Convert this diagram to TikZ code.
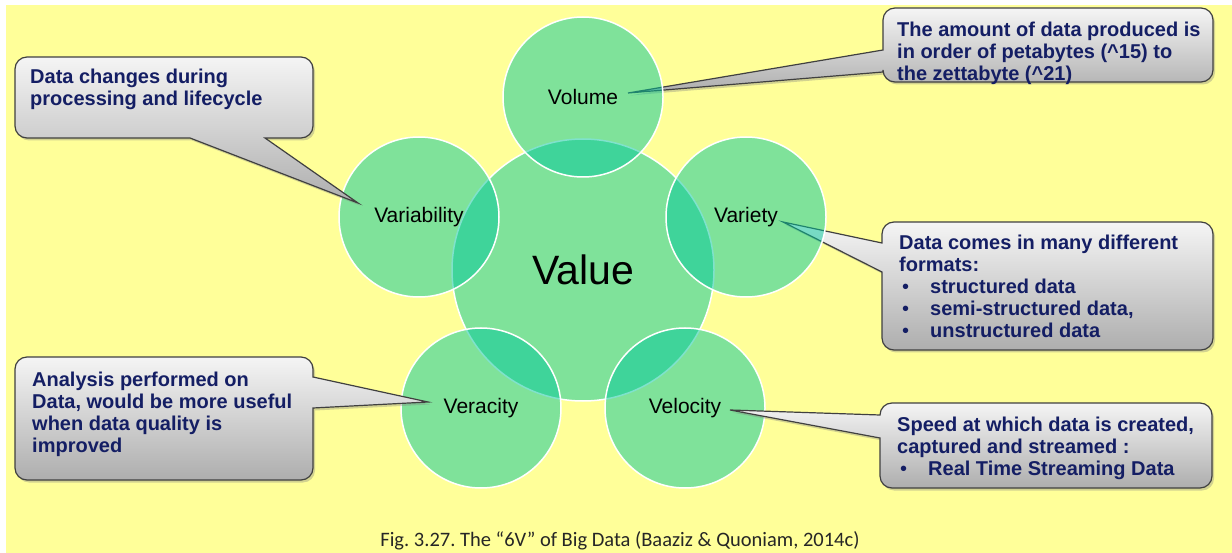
\documentclass[tikz,border=0pt]{standalone}
\usepackage{fontspec}
\setmainfont{Liberation Sans}
\newfontfamily\capfont{Carlito}
\usepackage{tikz}
\usetikzlibrary{shadows}
\definecolor{bgyellow}{RGB}{255,255,153}
\definecolor{vgreen}{RGB}{0,199,155}
\definecolor{notenavy}{RGB}{20,30,100}

\begin{document}
\begin{tikzpicture}[x=1pt,y=-1pt]
  \tikzstyle{vcircle} = [circle, fill=vgreen, fill opacity=0.5, text opacity=1, draw=white, line width=1.5pt, minimum size=160pt, inner sep=0pt, font=\fontsize{21}{25}\selectfont]
  \tikzstyle{note} = [draw=black!75, line width=1.2pt, top color=white!96!black, bottom color=black!32, drop shadow={shadow xshift=2pt, shadow yshift=-2.5pt, opacity=0.35}]
  \tikzstyle{notetext} = [anchor=north west, inner sep=0pt, align=left, text=notenavy, font=\fontsize{20}{22}\selectfont\bfseries]
  \newcommand{\blt}{\hspace*{3pt}\makebox[28pt][l]{\mdseries\textbullet}}

  \fill[white] (0,0) rectangle (1232,553);
  \fill[bgyellow] (6,5) rectangle (1232,553);
  \useasboundingbox (0,0) rectangle (1232,553);

  % tips of the callouts
  \coordinate (voltip) at (628,93);
  \coordinate (vartip) at (783,222);
  \coordinate (vbltip) at (358,203);
  \coordinate (vertip) at (428,402);
  \coordinate (veltip) at (730,410);

  % callouts lying under the circles
  \draw[note] (883,72) -- (voltip) -- (883,50) [rounded corners=12pt] -- (883,8) -- (1213,8) -- (1213,82) -- (883,82) [sharp corners] -- cycle;
  \draw[note] (882,272) -- (vartip) -- (882,243) [rounded corners=12pt] -- (882,222) -- (1213,222) -- (1213,350) -- (882,350) [sharp corners] -- cycle;

  % the six V
  \node[vcircle, minimum size=262pt, font=\fontsize{41}{45}\selectfont] (value) at (583,270) {Value};
  \node[vcircle] (volume) at (583,97) {Volume};
  \node[vcircle] (variety) at (746,217) {Variety};
  \node[vcircle] (velocity) at (685,408) {Velocity};
  \node[vcircle] (veracity) at (481,408) {Veracity};
  \node[vcircle] (variability) at (419,217) {Variability};

  % callouts on top
  \draw[note] (265,138) -- (vbltip) -- (190,138) [rounded corners=12pt] -- (15,138) -- (15,57) -- (313,57) -- (313,138) [sharp corners] -- cycle;
  \draw[note] (313,377) -- (vertip) -- (313,408) [rounded corners=12pt] -- (313,480) -- (15,480) -- (15,357) -- (313,357) [sharp corners] -- cycle;
  \draw[note] (880,438) -- (veltip) -- (880,415) [rounded corners=12pt] -- (880,403) -- (1212,403) -- (1212,488) -- (880,488) [sharp corners] -- cycle;

  % texts of the callouts
  \node[notetext] (volnote) at (897,22) {The amount of data produced is\\in order of petabytes (\^{}15) to\\the zettabyte (\^{}21)};
  \node[notetext] (varnote) at (899,235) {Data comes in many different\\formats:\\\blt structured data\\\blt semi-structured data,\\\blt unstructured data};
  \node[notetext] (vblnote) at (30,69) {Data changes during\\processing and lifecycle};
  \node[notetext] (vernote) at (32,372) {Analysis performed on\\Data, would be more useful\\when data quality is\\improved};
  \node[notetext] (velnote) at (897,417) {Speed at which data is created,\\captured and streamed :\\\blt Real Time Streaming Data};

  \node[text=black!85, font=\capfont\fontsize{20.5}{23}\selectfont\frenchspacing] (caption) at (620,541) {Fig. 3.27. The “6V” of Big Data (Baaziz \& Quoniam, 2014c)};
\end{tikzpicture}
\end{document}
